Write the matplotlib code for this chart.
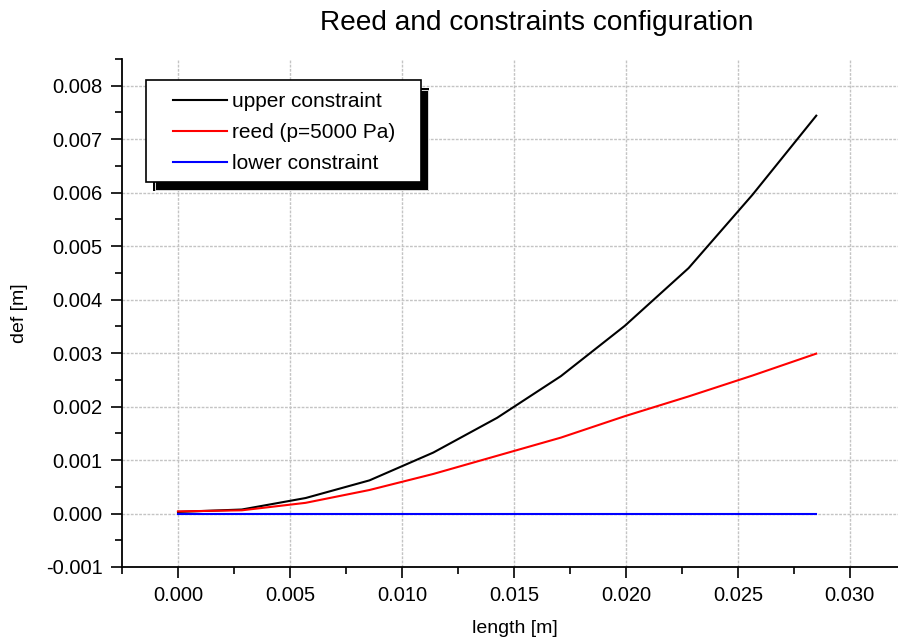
import matplotlib
matplotlib.use("Agg")
import matplotlib.pyplot as plt
from matplotlib.patches import Rectangle
from matplotlib.ticker import MultipleLocator, FormatStrFormatter

plt.rcParams['font.family'] = ['Liberation Sans', 'DejaVu Sans']

# reed length positions [m]
length = [0.0, 0.00285, 0.0057, 0.00855, 0.0114, 0.01425,
          0.0171, 0.01995, 0.0228, 0.02565, 0.0285]
upper = [0.00003, 0.000075, 0.00029, 0.00062, 0.00114, 0.00179,
         0.00257, 0.00351, 0.00459, 0.00596, 0.00744]
reed = [0.00004, 0.00006, 0.0002, 0.00044, 0.00074, 0.00108,
        0.00142, 0.00182, 0.00219, 0.00258, 0.00299]
lower = [0.0] * len(length)

labels = ['upper constraint', 'reed (p=5000 Pa)', 'lower constraint']

W, H = 898, 644
fig = plt.figure(figsize=(W / 100, H / 100), dpi=100)
ax = fig.add_axes([122 / W, (H - 567) / H, (W - 122) / W, (567 - 59) / H])

ax.plot(length, upper, color='black', lw=1.5, label=labels[0])
ax.plot(length, reed, color='red', lw=1.5, label=labels[1])
ax.plot(length, lower, color='blue', lw=1.5, label=labels[2])

ax.set_xlim(-0.0025, 0.03215)
ax.set_ylim(-0.001, 0.0085)
ax.xaxis.set_major_locator(MultipleLocator(0.005))
ax.xaxis.set_minor_locator(MultipleLocator(0.0025))
ax.yaxis.set_major_locator(MultipleLocator(0.001))
ax.yaxis.set_minor_locator(MultipleLocator(0.0005))
ax.xaxis.set_major_formatter(FormatStrFormatter('%.3f'))
ax.yaxis.set_major_formatter(FormatStrFormatter('%.3f'))

for s in ['top', 'right']:
    ax.spines[s].set_visible(False)
for s in ['left', 'bottom']:
    ax.spines[s].set_linewidth(1.3)
ax.tick_params(which='major', direction='out', length=8, width=1.2,
               labelsize=14.5, pad=6)
ax.tick_params(which='minor', direction='out', length=5, width=1.2)
ax.grid(True, which='major', color='#c4c4c4', linestyle=(0, (2, 1)), lw=1.0)
ax.set_axisbelow(True)

ax.set_xlabel('length [m]', fontsize=14)
ax.set_ylabel('def [m]', fontsize=14)
ax.xaxis.set_label_coords((515 - 122) / 776, (567 - 620) / 508)
ax.yaxis.set_label_coords((28 - 122) / 776, 0.5)

fig.text(537 / W, 1 - 23 / H, 'Reed and constraints configuration',
         ha='center', va='center', fontsize=20.2)

# legend frame with hard black shadow
def fig_rect(x0, y0, x1, y1, **kw):
    return Rectangle((x0 / W, 1 - y1 / H), (x1 - x0) / W, (y1 - y0) / H,
                     transform=fig.transFigure, **kw)

fig.add_artist(fig_rect(153, 88, 429, 191, facecolor='black',
                        edgecolor='black', lw=0, zorder=5))
fig.add_artist(fig_rect(154.5, 89.5, 427.5, 189.5, facecolor='none',
                        edgecolor='white', lw=0.6, zorder=5))
fig.add_artist(fig_rect(146, 80, 421, 182, facecolor='white',
                        edgecolor='black', lw=1.2, zorder=6))

leg = fig.legend(loc='center left', bbox_to_anchor=(173 / W, 1 - 132.5 / H),
                 frameon=False, fontsize=15, handlelength=2.6, borderpad=0,
                 borderaxespad=0, handletextpad=0.25, labelspacing=0.58)
leg.set_zorder(7)

fig.savefig('out.png', dpi=100)
